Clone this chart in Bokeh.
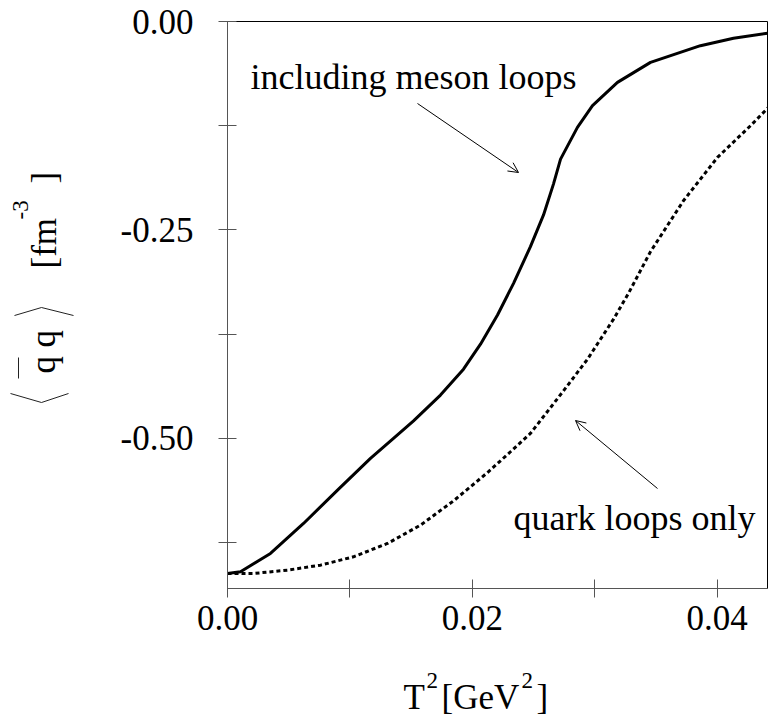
import math
from bokeh.plotting import figure
from bokeh.layouts import row, column
from bokeh.models import Range1d, FixedTicker, Label, Arrow, OpenHead
from bokeh.core.properties import value
from bokeh.embed import file_html
from bokeh.resources import INLINE

# ---- data ----
t2_meson = [0.0, 0.00106, 0.00351, 0.00621, 0.00899, 0.01168, 0.01356, 0.0152, 0.0174,
            0.01928, 0.02067, 0.02206, 0.02337, 0.02475, 0.02582, 0.02663, 0.02721,
            0.02859, 0.02982, 0.03186, 0.03456, 0.03864, 0.04134, 0.04412]
qq_meson = [-0.662, -0.660, -0.638, -0.602, -0.562, -0.524, -0.500, -0.479, -0.448,
            -0.417, -0.387, -0.352, -0.314, -0.270, -0.232, -0.195, -0.165,
            -0.127, -0.101, -0.073, -0.049, -0.029, -0.020, -0.014]

t2_quark = [0.0, 0.00212, 0.0049, 0.0076, 0.01029, 0.01307, 0.01577, 0.01846, 0.02124,
            0.02312, 0.02475, 0.02745, 0.02941, 0.03154, 0.03276, 0.03456, 0.03725,
            0.04003, 0.04273, 0.0442]
qq_quark = [-0.662, -0.662, -0.658, -0.652, -0.642, -0.626, -0.604, -0.575, -0.541,
            -0.516, -0.494, -0.443, -0.405, -0.357, -0.326, -0.276, -0.215,
            -0.163, -0.125, -0.103]

x_major = [0.0, 0.02, 0.04]
x_minor = [0.01, 0.03]
y_major = [0.0, -0.25, -0.50]
y_minor = [-0.125, -0.375, -0.625]
x_tick_labels = {0.0: "0.00", 0.02: "0.02", 0.04: "0.04"}
y_tick_labels = {0.0: "0.00", -0.25: "-0.25", -0.50: "-0.50"}

X_START, X_END = 0.0, 0.0442
Y_START, Y_END = -0.68, 0.0

FONT = "Liberation Serif"

# ---- geometry (page pixels) ----
TOTAL_W, TOTAL_H = 768, 716
YLAB_W = 100          # side panel holding the y-axis title
XLAB_H = 60           # bottom panel holding the x-axis title
FRAME_L, FRAME_T, FRAME_B = 227, 21, 588
SH = 9                # baseline correction for text placement

MW = TOTAL_W - YLAB_W
MH = TOTAL_H - XLAB_H
BL = FRAME_L - YLAB_W
BT = FRAME_T
BB = MH - FRAME_B
FW = MW - BL
FH = MH - BT - BB

def dx(px):
    return X_START + (px - FRAME_L) / FW * (X_END - X_START)

def dy(py):
    return Y_END - (py - FRAME_T) / FH * (Y_END - Y_START)

p = figure(width=MW, height=MH, output_backend="svg", toolbar_location=None,
           x_range=Range1d(X_START, X_END), y_range=Range1d(Y_START, Y_END),
           min_border_left=BL, min_border_right=0, min_border_top=BT,
           min_border_bottom=BB, title=None)
p.grid.visible = False
p.outline_line_color = "black"
p.outline_line_width = 1

for ax, maj, mnr, labs in ((p.xaxis[0], x_major, x_minor, x_tick_labels),
                           (p.yaxis[0], y_major, y_minor, y_tick_labels)):
    ax.ticker = FixedTicker(ticks=maj, minor_ticks=mnr)
    ax.major_label_overrides = labs
    ax.axis_line_color = "#555555"
    ax.major_tick_line_color = "#555555"
    ax.minor_tick_line_color = "#555555"
    ax.major_tick_in = 9
    ax.major_tick_out = 9
    ax.minor_tick_in = 9
    ax.minor_tick_out = 9
    ax.major_label_text_font = FONT
    ax.major_label_text_font_size = "35px"
    ax.major_label_text_color = "black"

p.xaxis.major_label_standoff = 8
p.yaxis.major_label_standoff = 25

# curves
p.line(t2_meson, qq_meson, line_color="black", line_width=3)
p.line(t2_quark, qq_quark, line_color="black", line_width=3, line_dash="4 3")

# annotations inside the frame
p.add_layout(Label(x=dx(250), y=dy(85 - SH), text="including meson loops", text_font=FONT,
                   text_font_size="36px", text_baseline="alphabetic", text_align="left",
                   text_color="black"))
p.add_layout(Label(x=dx(513), y=dy(526 - SH), text="quark loops only", text_font=FONT,
                   text_font_size="36px", text_baseline="alphabetic", text_align="left",
                   text_color="black"))
p.add_layout(Arrow(end=OpenHead(size=10, line_width=1), x_start=dx(417), y_start=dy(103),
                   x_end=dx(518), y_end=dy(172), line_width=1))
p.add_layout(Arrow(end=OpenHead(size=10, line_width=1), x_start=dx(657), y_start=dy(488),
                   x_end=dx(575), y_end=dy(420), line_width=1))

# ---- y-axis title panel (page pixel coordinates) ----
yl = figure(width=YLAB_W, height=TOTAL_H, output_backend="svg", toolbar_location=None,
            x_range=Range1d(0, YLAB_W), y_range=Range1d(TOTAL_H, 0),
            x_axis_type=None, y_axis_type=None, title=None,
            min_border_left=0, min_border_right=0, min_border_top=0, min_border_bottom=0)
yl.grid.visible = False
yl.outline_line_color = None

R = math.pi / 2
def ytxt(x, y, t, size):
    yl.text(x=[x - SH], y=[y], text=[t], angle=R, text_font=value(FONT),
            text_font_size=size, text_baseline="alphabetic", text_align="left",
            text_color="black")

ytxt(53, 268, "[fm", "35px")
ytxt(29, 219, "-3", "23px")
ytxt(53, 183, "]", "35px")
ytxt(52, 373, "q", "35px")
ytxt(52, 347, "q", "35px")
# overbar and angle brackets
yl.segment(x0=[18, 10, 41, 14, 41], y0=[357, 393, 402, 315, 307],
           x1=[18, 41, 68, 41, 73], y1=[378, 402, 393, 307, 315],
           line_color="#222222", line_width=1)

# ---- x-axis title panel (frame aligned with the main frame) ----
xl = figure(width=MW, height=XLAB_H, output_backend="svg", toolbar_location=None,
            x_range=Range1d(FRAME_L, TOTAL_W), y_range=Range1d(TOTAL_H, MH),
            x_axis_type=None, y_axis_type=None, title=None,
            min_border_left=BL, min_border_right=0, min_border_top=0, min_border_bottom=0)
xl.grid.visible = False
xl.outline_line_color = None

def xtxt(x, y, t, size):
    xl.text(x=[x], y=[y - SH], text=[t], text_font=value(FONT), text_font_size=size,
            text_baseline="alphabetic", text_align="left", text_color="black")

xtxt(403, 706, "T", "35px")
xtxt(426, 689, "2", "23px")
xtxt(441, 706, "[GeV", "35px")
xtxt(521, 689, "2", "23px")
xtxt(536, 706, "]", "35px")

layout = row(yl, column(p, xl, spacing=0), spacing=0)
open("out.html", "w").write(file_html(layout, INLINE))
